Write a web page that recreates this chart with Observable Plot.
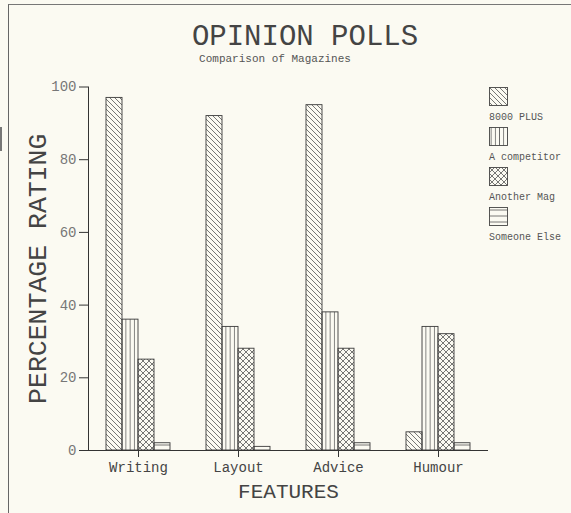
<!DOCTYPE html>
<html>
<head>
<meta charset="utf-8">
<script src="https://cdn.jsdelivr.net/npm/d3@7"></script>
<script src="https://cdn.jsdelivr.net/npm/@observablehq/plot@0.6"></script>
<style>
  html, body { margin: 0; padding: 0; background: #fbfaf2; }
  #wrap { position: relative; width: 571px; height: 513px; overflow: hidden;
          font-family: "Liberation Mono", "DejaVu Sans Mono", monospace; color: #3a3a3a; }
  #frame { position: absolute; left: 8px; top: 4px; right: 0; bottom: 0;
           border-left: 1px solid #666; border-top: 1px solid #777; }
  #scan { position: absolute; left: 0; top: 127px; width: 2px; height: 24px; background: #777; }
  #title { position: absolute; left: 305px; top: 23px; transform: translateX(-50%);
           font-size: 29px; line-height: 29px; white-space: nowrap; color: #444; }
  #subtitle { position: absolute; left: 275px; top: 54px; transform: translateX(-50%);
              font-size: 11px; line-height: 11px; white-space: nowrap; color: #555; }
  #chart { position: absolute; left: 0; top: 70px; }
  #legend { position: absolute; left: 489px; top: 87px; }
  .item { height: 40px; }
  .item svg { display: block; }
  .item span { display: block; margin-top: 7px; font-size: 10px; line-height: 10px; color: #555; white-space: nowrap; }
  g[aria-label="y-axis label"], g[aria-label="y-axis label"] text { font-size: 26.5px; fill: #444; }
  g[aria-label="fx-axis label"], g[aria-label="fx-axis label"] text { font-size: 21px; fill: #444; }
</style>
</head>
<body>
<svg width="0" height="0" style="position:absolute">
  <defs>
    <pattern id="pat-diag" patternUnits="userSpaceOnUse" width="5" height="5">
      <path d="M-1,-1 L6,6 M-1,4 L1,6 M4,-1 L6,1" stroke="#555" stroke-width="0.8" fill="none"/>
    </pattern>
    <pattern id="pat-vert" patternUnits="userSpaceOnUse" width="4.2" height="10">
      <path d="M2.1,0 V10" stroke="#555" stroke-width="0.8" fill="none"/>
    </pattern>
    <pattern id="pat-cross" patternUnits="userSpaceOnUse" width="6" height="6">
      <path d="M0,0 L6,6 M6,0 L0,6" stroke="#555" stroke-width="0.8" fill="none"/>
    </pattern>
    <pattern id="pat-horiz" patternUnits="userSpaceOnUse" width="10" height="6">
      <path d="M0,3 H10" stroke="#555" stroke-width="0.8" fill="none"/>
    </pattern>
  </defs>
</svg>
<div id="wrap">
  <div id="frame"></div>
  <div id="scan"></div>
  <div id="title">OPINION POLLS</div>
  <div id="subtitle">Comparison of Magazines</div>
  <div id="chart"></div>
  <div id="legend"></div>
</div>
<script>
const features = ["Writing", "Layout", "Advice", "Humour"];
const series = ["8000 PLUS", "A competitor", "Another Mag", "Someone Else"];
const values8000Plus = [97, 92, 95, 5];
const valuesCompetitor = [36, 34, 38, 34];
const valuesAnotherMag = [25, 28, 28, 32];
const valuesSomeoneElse = [2, 1, 2, 2];
const yTicks = [0, 20, 40, 60, 80, 100];
const patternFills = ["url(#pat-diag)", "url(#pat-vert)", "url(#pat-cross)", "url(#pat-horiz)"];

const seriesValues = [values8000Plus, valuesCompetitor, valuesAnotherMag, valuesSomeoneElse];
const data = [];
features.forEach((f, i) => {
  series.forEach((s, j) => data.push({feature: f, series: s, value: seriesValues[j][i]}));
});

const chart = Plot.plot({
  width: 571,
  height: 443,
  marginLeft: 86,
  marginRight: 82,
  marginTop: 16.5,
  marginBottom: 63,
  style: {background: "transparent", fontFamily: '"Liberation Mono", monospace', color: "#3a3a3a"},
  fx: {domain: features, padding: 0},
  x: {domain: series, paddingInner: 0, paddingOuter: 1, axis: null},
  y: {domain: [0, 100]},
  color: {type: "ordinal", domain: series, range: patternFills},
  marks: [
    Plot.barY(data, {fx: "feature", x: "series", y: "value", fill: "series", stroke: "#3a3a3a", strokeWidth: 0.9}),
    Plot.ruleY([0], {stroke: "#333"}),
    Plot.frame({anchor: "left", facetAnchor: "left", stroke: "#333"}),
    Plot.axisY({ticks: yTicks, tickSize: 9, tickPadding: 3, fontSize: 14, stroke: "#333", fill: "#777",
                label: "PERCENTAGE RATING", labelArrow: "none", labelAnchor: "center", labelOffset: 61}),
    Plot.axisFx({anchor: "bottom", tickSize: 7, tickPadding: 5, fontSize: 14, stroke: "#333", fill: "#444",
                 label: "FEATURES", labelArrow: "none", labelAnchor: "center", labelOffset: 47})
  ]
});
document.getElementById("chart").appendChild(chart);

const legend = d3.select("#legend");
series.forEach((s, i) => {
  const item = legend.append("div").attr("class", "item");
  const sw = item.append("svg").attr("width", 19).attr("height", 19);
  sw.append("rect").attr("x", 0.5).attr("y", 0.5).attr("width", 18).attr("height", 18)
    .attr("fill", patternFills[i]).attr("stroke", "#444").attr("stroke-width", 0.9);
  item.append("span").text(s);
});
</script>
</body>
</html>
